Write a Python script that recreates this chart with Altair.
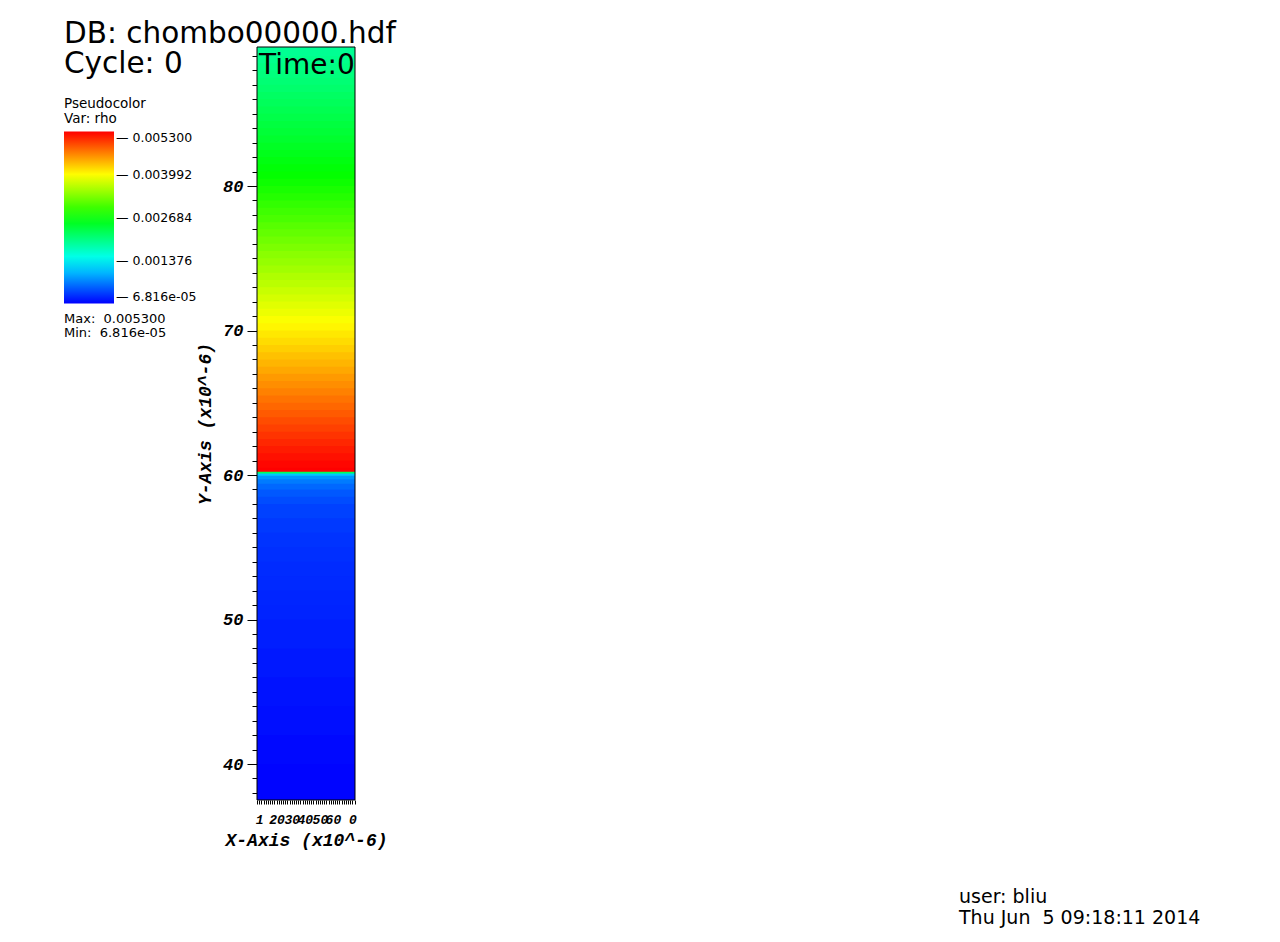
import altair as alt
import pandas as pd

# ---------------- data ----------------
x_min, x_max = 0.0, 6.78
y_min, y_max = 37.51, 89.62

# lower (light) layer: band edges and rho
lower_edges = [37.51, 40, 42, 44, 46, 48, 50, 51, 52, 53, 54, 55, 56, 57, 58,
               58.5, 59, 59.4, 59.7, 59.95, 60.1, 60.23]
lower_rho = [0.00009, 0.00011, 0.00014, 0.00016, 0.00019, 0.00022, 0.00025,
             0.00026, 0.00028, 0.00029, 0.00031, 0.00033, 0.00036, 0.00040,
             0.00046, 0.00052, 0.00060, 0.00070, 0.00085, 0.00110, 0.00220]

# upper (heavy) layer: half-unit bands
upper_edges = [60.23] + [round(60.5 + 0.5 * i, 2) for i in range(59)] + [89.62]
upper_rho = [0.00530, 0.00527, 0.00522, 0.00516, 0.00510, 0.00504, 0.00497, 0.00491,
             0.00484, 0.00477, 0.00471, 0.00464, 0.00457, 0.00451, 0.00444, 0.00437,
             0.00431, 0.00424, 0.00417, 0.00411, 0.00404, 0.00397, 0.00390, 0.00384,
             0.00377, 0.00371, 0.00364, 0.00358, 0.00351, 0.00345, 0.00339, 0.00332,
             0.00326, 0.00319, 0.00313, 0.00306, 0.00300, 0.00294, 0.00287, 0.00281,
             0.00275, 0.00270, 0.00265, 0.00260, 0.00255, 0.00250, 0.00245, 0.00240,
             0.00236, 0.00231, 0.00227, 0.00222, 0.00218, 0.00213, 0.00209, 0.00205,
             0.00201, 0.00197, 0.00193, 0.00190]

cmap_domain = [6.816e-05, 0.001376, 0.002684, 0.003992, 0.0053]
cmap_range = ["#0000ff", "#00ffff", "#00ff00", "#ffff00", "#ff0000"]
legend_values = [0.0053, 0.003992, 0.002684, 0.001376, 6.816e-05]
legend_title = ["Pseudocolor", "Var: rho"]
minmax_lines = ["Max:\u00a0 0.005300", "Min:\u00a0 6.816e-05"]
title_lines = ["DB: chombo00000.hdf", "Cycle: 0"]
time_label = "Time:0"
user_lines = ["user: bliu", "Thu Jun \u00a05 09:18:11 2014"]
x_axis_title = "X-Axis (x10^-6)"
y_axis_title = "Y-Axis (x10^-6)"
x_label_pos = [0.15, 1.35, 2.40, 3.30, 4.35, 5.25, 6.60]
x_label_text = ["1", "20", "30", "40", "50", "60", "0"]
y_tick_values = list(range(38, 90))
x_tick_values = [round(0.15 * i, 2) for i in range(46)]

# ---------------- build table ----------------
edges = lower_edges + upper_edges[1:]
rhos = lower_rho + upper_rho
rows = []
for i, r in enumerate(rhos):
    rows.append({"x0": x_min, "x1": x_max, "y0": edges[i], "y1": edges[i + 1], "rho": r})
df = pd.DataFrame(rows)

AXFONT = "Liberation Mono"
TXTFONT = "DejaVu Sans"

x_label_expr = " : ".join(
    f"abs(datum.value - {p}) < 0.02 ? '{t}'" for p, t in zip(x_label_pos, x_label_text)
) + " : ''"

x_axis = alt.Axis(
    values=x_tick_values, title=x_axis_title, labelExpr=x_label_expr,
    labelOverlap=False, labelFlush=False, domain=False, grid=False,
    tickSize=4, tickColor="black", tickWidth=1, labelPadding=9,
    labelFont=AXFONT, labelFontSize=13, labelFontWeight="bold", labelFontStyle="italic",
    labelColor="black", titleFont=AXFONT, titleFontSize=18, titleFontWeight="bold",
    titleFontStyle="italic", titleColor="black", titlePadding=5,
)
y_axis = alt.Axis(
    values=y_tick_values, title=y_axis_title,
    labelExpr="datum.value % 10 === 0 ? datum.label : ''",
    labelOverlap=False, labelFlush=False, domain=False, grid=False,
    tickSize={"condition": {"test": "datum.value % 10 === 0", "value": 10}, "value": 5},
    tickColor="black", tickWidth=1, labelPadding=4,
    labelFont=AXFONT, labelFontSize=17, labelFontWeight="bold", labelFontStyle="italic",
    labelColor="black", titleFont=AXFONT, titleFontSize=18, titleFontWeight="bold",
    titleFontStyle="italic", titleColor="black", titlePadding=8,
)

legend = alt.Legend(
    type="gradient", orient="none", legendX=-193, legendY=50, direction="vertical", padding=0,
    title=legend_title, titleFont=TXTFONT, titleFontSize=13.5, titleFontWeight="normal",
    titleColor="black", titlePadding=6, titleLineHeight=15, titleAnchor="start",
    gradientLength=172, gradientThickness=50, gradientStrokeWidth=0,
    values=legend_values, labelOverlap=False,
    labelExpr="'\u2014 ' + (datum.value < 0.0001 ? replace(format(datum.value, '.3e'), 'e-5', 'e-05') : format(datum.value, '.6f'))",
    labelFont=TXTFONT, labelFontSize=12.5, labelColor="black", labelPadding=1,
)

color_scale = alt.Scale(domain=cmap_domain, range=cmap_range, clamp=True, interpolate="rgb")

# each band is drawn a hair taller so that neighbouring bands leave no seam
heat = alt.Chart(df).transform_calculate(
    y1o="datum.y1 + 0.06"
).mark_rect(clip=True).encode(
    x=alt.X("x0:Q", scale=alt.Scale(domain=[x_min, x_max], nice=False, zero=False), axis=x_axis),
    x2="x1:Q",
    y=alt.Y("y0:Q", scale=alt.Scale(domain=[y_min, y_max], nice=False, zero=False), axis=y_axis),
    y2="y1o:Q",
    color=alt.Color("rho:Q", scale=color_scale, legend=legend),
    order=alt.Order("y0:Q"),
)

one = alt.Data(values=[{}])

border = alt.Chart(one).mark_rect(filled=False, stroke="black", strokeWidth=1).encode(
    x=alt.value(0), x2=alt.value("width"), y=alt.value(0), y2=alt.value("height")
)


def txt(s, x, y, size):
    return alt.Chart(one).mark_text(
        align="left", baseline="alphabetic", font=TXTFONT, fontSize=size, color="black"
    ).encode(x=alt.value(x), y=alt.value(y), text=alt.value(s))


layers = [
    heat, border,
    txt(title_lines[0], -193, -4, 29.5),
    txt(title_lines[1], -193, 26, 29.5),
    txt(time_label, 2, 27, 28),
    txt(minmax_lines[0], -193, 276, 13),
    txt(minmax_lines[1], -193, 290, 13),
    txt(user_lines[0], 702, 856, 19),
    txt(user_lines[1], 702, 877, 19),
]

chart = alt.layer(*layers).properties(
    width=98, height=753,
    padding={"left": 249, "top": 39, "right": 917, "bottom": 130},
    autosize=alt.AutoSizeParams(type="none"),
).configure_view(stroke=None)

chart.save("out.html", embed_options={"renderer": "svg", "actions": False})
